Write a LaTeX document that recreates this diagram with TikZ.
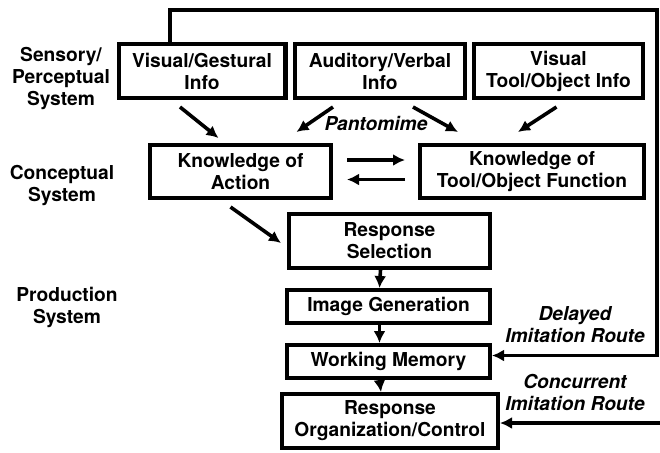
\documentclass[tikz,border=0pt]{standalone}
\usepackage{fontspec}
\setmainfont{TeX Gyre Heros}
\usetikzlibrary{arrows.meta,scopes}
\begin{document}
\begin{tikzpicture}[
    x=0.5pt,y=-0.5pt,
    box/.style={draw=black,line width=2.2pt,fill=white,align=center,inner sep=0pt,font=\fontsize{9.6}{11}\selectfont\bfseries},
    lbl/.style={align=center,font=\fontsize{9.6}{11}\selectfont\bfseries},
    route/.style={align=center,font=\fontsize{9.6}{11}\selectfont\bfseries\itshape},
    arr/.style={-{Latex[length=6pt,width=6pt]},line width=1.8pt}
]
    \useasboundingbox (0,0) rectangle (660,452);
    \node[lbl] (sens) at (61,78) {Sensory/\\Perceptual\\System};
    \node[lbl] (conc) at (62,185) {Conceptual\\System};
    \node[lbl] (prod) at (67,307) {Production\\System};
    \node[box,minimum width=83.3pt,minimum height=26.8pt] (vg) at (202,71) {Visual/Gestural\\Info};
    \node[box,minimum width=84.8pt,minimum height=26.8pt] (av) at (380,71) {Auditory/Verbal\\Info};
    \node[box,minimum width=84.3pt,minimum height=26.8pt] (vt) at (558.5,71) {Visual\\Tool/Object Info};
    \node[box,minimum width=90.3pt,minimum height=26.3pt] (ka) at (240.5,171.5) {Knowledge of\\Action};
    \node[box,minimum width=111.8pt,minimum height=26.3pt] (kt) at (532,171.5) {Knowledge of\\Tool/Object Function};
    \node[box,minimum width=100.3pt,minimum height=26.8pt] (rs) at (389.5,241) {Response\\Selection};
    \node[box,minimum width=101.3pt,minimum height=16.3pt] (ig) at (388.5,306.5) {Image Generation};
    \node[box,minimum width=101.3pt,minimum height=16.3pt] (wm) at (388.5,361.5) {Working Memory};
    \node[box,minimum width=107.8pt,minimum height=26.8pt] (ro) at (390,421) {Response\\Organization/Control};
    \node[route] (pan) at (376,123) {Pantomime};
    \node[route] (del) at (575,325) {Delayed\\Imitation Route};
    \node[route] (con) at (575,392) {Concurrent\\Imitation Route};
    \coordinate (fb) at (657,10);
    \coordinate (cc) at (660,423);
    {[arr]
        \draw ([xshift=-11pt,yshift=-3.5pt]vg.south) -- ([xshift=-11pt,yshift=2.5pt]ka.north);
        \draw ([xshift=-23.5pt,yshift=-3.5pt]av.south) -- ([xshift=28pt,yshift=5.5pt]ka.north);
        \draw ([xshift=16.5pt,yshift=-3.5pt]av.south) -- ([xshift=-37pt,yshift=5.5pt]kt.north);
        \draw ([xshift=-1pt,yshift=-3.5pt]vt.south) -- ([xshift=-7pt,yshift=5.5pt]kt.north);
        \draw ([xshift=7pt,yshift=5.75pt]ka.east) -- ([xshift=-6.5pt,yshift=5.75pt]kt.west);
        \draw ([xshift=-6.5pt,yshift=-4pt]kt.west) -- ([xshift=7pt,yshift=-4pt]ka.east);
        \draw ([xshift=-5pt,yshift=-3.5pt]ka.south) -- ([xshift=-3pt,yshift=-1pt]rs.west);
        \draw ([xshift=-4.5pt]rs.south) -- ([xshift=-4.5pt]ig.north);
        \draw ([xshift=-4.5pt]ig.south) -- ([xshift=-4.5pt]wm.north);
        \draw ([xshift=-4.5pt]wm.south) -- ([xshift=-4.5pt]ro.north);
        \draw[line width=1.6pt] ([xshift=-16pt]vg.north) |- (fb) |- ([yshift=3pt]wm.east);
        \draw (cc) -- (ro.east |- cc);
    }
\end{tikzpicture}
\end{document}
